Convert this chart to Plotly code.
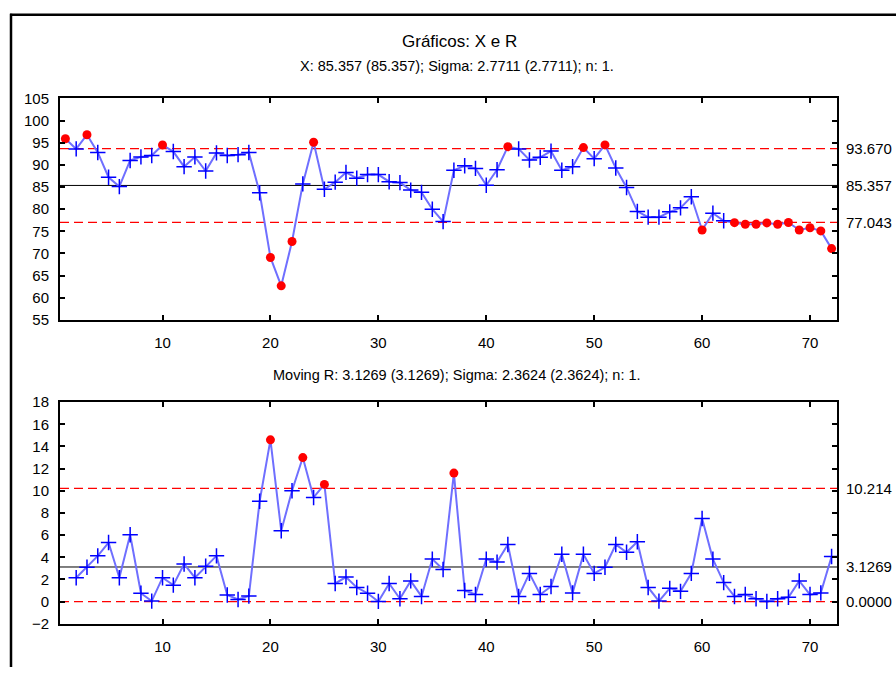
import plotly.graph_objects as go

# Individual observations (X chart)
x_values = [
    95.9, 93.6, 96.8, 92.8, 87.2, 85.1, 91.0, 91.8, 92.1, 94.5,
    93.0, 89.6, 91.8, 88.6, 92.7, 92.1, 92.3, 92.8, 83.7, 69.1,
    62.7, 72.7, 85.7, 95.1, 84.5, 86.1, 88.3, 87.0, 87.8, 87.8,
    86.2, 86.0, 84.3, 83.8, 80.0, 77.2, 88.8, 89.8, 89.2, 85.4,
    88.9, 94.1, 93.6, 91.1, 91.7, 93.1, 88.8, 89.6, 93.9, 91.4,
    94.5, 89.3, 84.9, 79.5, 78.2, 78.2, 79.4, 80.3, 82.8, 75.3,
    79.1, 77.4, 76.95, 76.6, 76.6, 76.9, 76.6, 77.0, 75.3, 75.8,
    75.1, 71.1,
]
x_index = list(range(1, len(x_values) + 1))

# Moving ranges (start at sample 2)
mr_values = [
    2.16, 3.1, 4.13, 5.33, 2.16, 6.04, 0.76, 0.05, 2.16, 1.49,
    3.4, 2.16, 3.19, 4.13, 0.6, 0.2, 0.5, 9.06, 14.6, 6.4,
    10.0, 13.0, 9.4, 10.58, 1.64, 2.22, 1.28, 0.76, 0.02, 1.64,
    0.26, 1.87, 0.47, 3.84, 2.9, 11.6, 1.0, 0.64, 3.84, 3.57,
    5.16, 0.47, 2.55, 0.64, 1.37, 4.28, 0.79, 4.28, 2.55, 3.1,
    5.16, 4.45, 5.4, 1.28, 0.05, 1.2, 0.93, 2.55, 7.5, 3.84,
    1.72, 0.47, 0.64, 0.26, 0.02, 0.26, 0.4, 1.87, 0.64, 0.79,
    4.07,
]
mr_index = list(range(2, len(mr_values) + 2))

# Control limits
x_limits = {"ucl": 93.670, "cl": 85.357, "lcl": 77.043}
x_limit_labels = ["93.670", "85.357", "77.043"]
mr_limits = {"ucl": 10.214, "cl": 3.1269, "lcl": 0.0}
mr_limit_labels = ["10.214", "3.1269", "0.0000"]

W, H = 896, 675
FONT = "Liberation Sans, Arial, sans-serif"
LINE_COLOR = "#6f6fff"
PLUS_COLOR = "#0000ff"


def px_x(p):
    return p / W


def px_y(p):
    return 1 - p / H


fig = go.Figure()


def add_chart(idx, vals, limits, xa, ya):
    # connecting line
    fig.add_trace(go.Scatter(x=idx, y=vals, mode="lines",
                             line=dict(color=LINE_COLOR, width=2),
                             xaxis=xa, yaxis=ya, showlegend=False, hoverinfo="skip"))
    inside = [(i, v) for i, v in zip(idx, vals) if limits["lcl"] <= v <= limits["ucl"]]
    outside = [(i, v) for i, v in zip(idx, vals) if not (limits["lcl"] <= v <= limits["ucl"])]
    fig.add_trace(go.Scatter(x=[p[0] for p in inside], y=[p[1] for p in inside], mode="markers",
                             marker=dict(symbol="cross-thin", size=11,
                                         line=dict(color=PLUS_COLOR, width=1.5)),
                             xaxis=xa, yaxis=ya, showlegend=False))
    fig.add_trace(go.Scatter(x=[p[0] for p in outside], y=[p[1] for p in outside], mode="markers",
                             marker=dict(symbol="circle", size=9, color="#ff0000"),
                             xaxis=xa, yaxis=ya, showlegend=False))
    for key, dash, color, width in [("ucl", "9px,5px", "#ff0000", 1.3),
                                    ("cl", "solid", "#000000", 1),
                                    ("lcl", "9px,5px", "#ff0000", 1.3)]:
        fig.add_shape(type="line", xref=f"{xa} domain", yref=ya,
                      x0=0, x1=1, y0=limits[key], y1=limits[key],
                      line=dict(color=color, width=width, dash=dash), layer="below")


add_chart(x_index, x_values, x_limits, "x", "y")
add_chart(mr_index, mr_values, mr_limits, "x2", "y2")

for lbl, key in zip(x_limit_labels, ["ucl", "cl", "lcl"]):
    fig.add_annotation(x=px_x(844), xref="paper", y=x_limits[key], yref="y",
                       text=lbl, showarrow=False, xanchor="left", yanchor="middle",
                       font=dict(family=FONT, size=15, color="#000"))
for lbl, key in zip(mr_limit_labels, ["ucl", "cl", "lcl"]):
    fig.add_annotation(x=px_x(844), xref="paper", y=mr_limits[key], yref="y2",
                       text=lbl, showarrow=False, xanchor="left", yanchor="middle",
                       font=dict(family=FONT, size=15, color="#000"))

# Titles
fig.add_annotation(x=px_x(459), y=px_y(33), xref="paper", yref="paper",
                   text="Gráficos: X e R", showarrow=False, yanchor="middle",
                   font=dict(family=FONT, size=17, color="#000"))
fig.add_annotation(x=px_x(457), y=px_y(58), xref="paper", yref="paper",
                   text="X: 85.357 (85.357); Sigma: 2.7711 (2.7711); n: 1.", showarrow=False,
                   yanchor="middle", font=dict(family=FONT, size=14.5, color="#000"))
fig.add_annotation(x=px_x(457), y=px_y(375), xref="paper", yref="paper",
                   text="Moving R: 3.1269 (3.1269); Sigma: 2.3624 (2.3624); n: 1.", showarrow=False,
                   yanchor="middle", font=dict(family=FONT, size=14.5, color="#000"))

# Outer frame: top and left edges
fig.add_shape(type="line", xref="paper", yref="paper",
              x0=px_x(10), x1=1, y0=px_y(6), y1=px_y(6),
              line=dict(color="#000", width=2.5))
fig.add_shape(type="line", xref="paper", yref="paper",
              x0=px_x(11), x1=px_x(11), y0=px_y(5), y1=0,
              line=dict(color="#000", width=2.5))

xdom = [px_x(60), px_x(837)]
axis_common = dict(showline=True, linecolor="#000", linewidth=2, mirror="allticks",
                   ticks="inside", ticklen=5, tickwidth=2, tickcolor="#000",
                   showgrid=False, zeroline=False,
                   tickfont=dict(family=FONT, size=15, color="#000"))

fig.update_layout(
    width=W, height=H,
    margin=dict(l=0, r=0, t=0, b=0),
    paper_bgcolor="#fff", plot_bgcolor="#fff",
    xaxis=dict(domain=xdom, range=[0.5, 72.5], tickvals=[10, 20, 30, 40, 50, 60, 70],
               anchor="y", ticklabelstandoff=8, **axis_common),
    yaxis=dict(domain=[px_y(319), px_y(91.7)], range=[55, 105], dtick=5, tick0=55,
               anchor="x", ticklabelstandoff=6, **axis_common),
    xaxis2=dict(domain=xdom, range=[0.5, 72.5], tickvals=[10, 20, 30, 40, 50, 60, 70],
                anchor="y2", ticklabelstandoff=8, **axis_common),
    yaxis2=dict(domain=[px_y(630.7), px_y(403.3)], range=[-2, 18], dtick=2, tick0=-2,
                anchor="x2", ticklabelstandoff=6, **axis_common),
)

fig.write_html("out.html")
